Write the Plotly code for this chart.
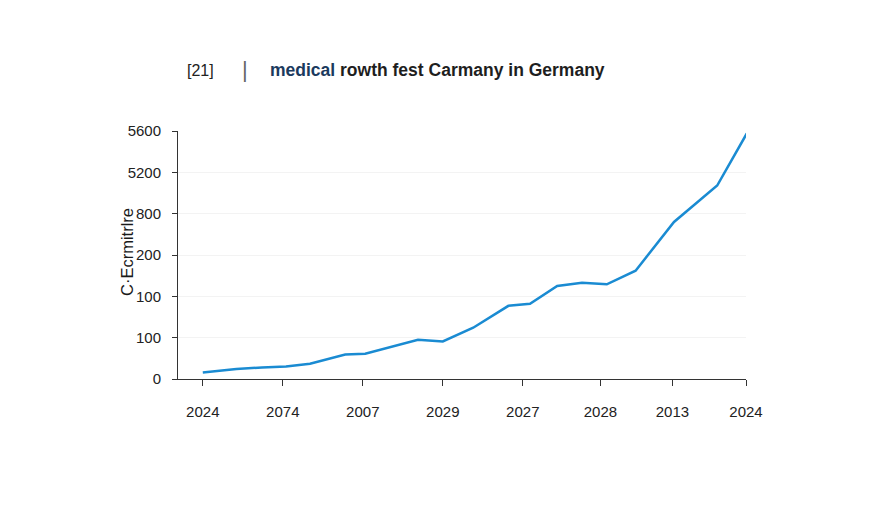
import plotly.graph_objects as go

# Data
x_vals = [0.0, 0.42, 0.74, 1.04, 1.34, 1.78, 2.03, 2.69, 3.0, 3.38, 3.82,
          4.09, 4.43, 4.74, 5.05, 5.41, 5.89, 6.43, 6.8]
y_vals = [0.16, 0.24, 0.28, 0.30, 0.37, 0.59, 0.61, 0.95, 0.91, 1.24, 1.77,
          1.82, 2.25, 2.33, 2.29, 2.62, 3.80, 4.68, 5.94]

x_tickvals = [0, 1, 2, 3, 4, 4.97, 5.87, 6.79]
x_ticktext = ["2024", "2074", "2007", "2029", "2027", "2028", "2013", "2024"]
y_tickvals = [0, 1, 2, 3, 4, 5, 6]
y_ticktext = ["0", "100", "100", "200", "800", "5200", "5600"]

title_prefix = "[21]"
title_main_blue = "medical"
title_main_rest = " rowth fest Carmany in Germany"
y_title = "C·Ecrmitrlre"

fig = go.Figure()
fig.add_trace(go.Scatter(
    x=x_vals, y=y_vals, mode="lines",
    line=dict(color="#1a8bd2", width=2.5),
    hoverinfo="skip", showlegend=False,
))

font_family = "Liberation Sans, Arial, sans-serif"

# plot area in page pixels: left 178, right 746, top 131, bottom 379
PL, PR, PT, PB = 178, 746, 131, 379


def px(x):
    return (x - PL) / (PR - PL)


def py(y):
    return (PB - y) / (PB - PT)


fig.update_layout(
    width=896, height=512,
    margin=dict(l=PL - 8, r=896 - PR + 8, t=PT - 8, b=512 - PB + 8),
    paper_bgcolor="white", plot_bgcolor="white",
    font=dict(family=font_family, color="#222222", size=15),
    xaxis=dict(
        range=[-0.31, 6.79], tickmode="array",
        tickvals=x_tickvals, ticktext=x_ticktext,
        showgrid=False, zeroline=False,
        showline=True, linecolor="#333333", linewidth=1,
        ticks="outside", ticklen=6, tickcolor="#333333",
        ticklabelstandoff=13,
        tickfont=dict(size=15, color="#222222"),
    ),
    yaxis=dict(
        range=[0, 6], tickmode="array",
        tickvals=y_tickvals, ticktext=y_ticktext,
        showgrid=True, gridcolor="#f3f3f3", gridwidth=1,
        zeroline=False,
        showline=True, linecolor="#333333", linewidth=1,
        ticks="outside", ticklen=5, tickcolor="#333333",
        ticklabelstandoff=8,
        tickfont=dict(size=15, color="#222222"),
    ),
    annotations=[
        dict(text=y_title, xref="paper", yref="paper",
             x=px(127), y=py(252), textangle=-90,
             xanchor="center", yanchor="middle", showarrow=False,
             font=dict(size=16.5, color="#1a1a1a", family=font_family)),
        dict(text=title_prefix, xref="paper", yref="paper",
             x=px(185), y=py(70),
             xanchor="left", yanchor="middle", showarrow=False,
             font=dict(size=16, color="#222222", family=font_family)),
        dict(text="|", xref="paper", yref="paper",
             x=px(245), y=py(69),
             xanchor="center", yanchor="middle", showarrow=False,
             font=dict(size=22, color="#666666", family=font_family)),
        dict(text="<b><span style='color:#1b3a5e'>" + title_main_blue + "</span>"
                  + title_main_rest + "</b>",
             xref="paper", yref="paper",
             x=px(268), y=py(70),
             xanchor="left", yanchor="middle", showarrow=False,
             font=dict(size=17.5, color="#1e1e1e", family=font_family)),
    ],
)

fig.write_html("out.html")
